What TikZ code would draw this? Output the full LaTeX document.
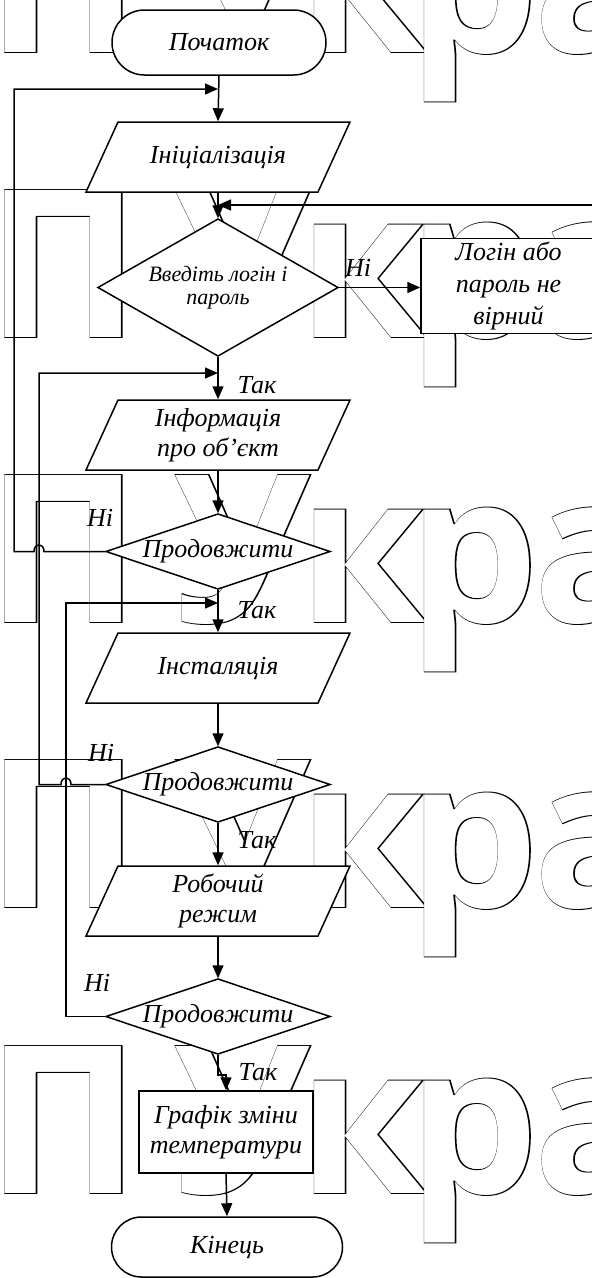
\documentclass[tikz,border=0pt]{standalone}
\usepackage{fontspec}
\setmainfont{Liberation Serif}
\newfontfamily\wmfill{Open Sans}
\newfontfamily\wmstroke{Open Sans}[FakeBold=0.9]
\usetikzlibrary{arrows.meta,shapes.misc}

% input/output block: slanted parallelogram plus a named text node
\newcommand\flowio[4]{%
  \draw[shape line] ({#2-100},{#3-35}) -- ({#2+132},{#3-35}) -- ({#2+100},{#3+35}) -- ({#2-132},{#3+35}) -- cycle;
  \node[inside, minimum width=200pt, minimum height=70pt] (#1) at (#2,#3) {#4};}
% decision block: rhombus plus a named text node of the same size
\newcommand\flowdecision[7][]{%
  \draw[shape line] ({#3-#5},#4) -- (#3,{#4-#6}) -- ({#3+#5},#4) -- (#3,{#4+#6}) -- cycle;
  \node[inside, minimum width={2*#5}, minimum height={2*#6}, #1] (#2) at (#3,#4) {#7};}
% one outlined background letter: dark rim first, white face on top
\newcommand\wmletter[4]{%
  \node[wm, text=black, font=\wmstroke\bfseries\fontsize{206}{206}\selectfont] (#1o) at (#2,#3) {#4};
  \node[wm, text=white, font=\wmfill\bfseries\fontsize{206}{206}\selectfont] (#1i) at (#2,#3) {#4};}

\begin{document}
\begin{tikzpicture}[x=1pt,y=-1pt,line width=1.5pt,
  txt/.style={font=\fontsize{26}{30}\selectfont\itshape},
  inside/.style={txt, inner sep=0pt, align=center},
  shape line/.style={draw, fill=white, line width=1.5pt},
  arr/.style={-{Triangle[length=13pt,width=11pt]}},
  term/.style={rounded rectangle, draw, fill=white, inner sep=0pt, txt},
  plainbox/.style={rectangle, draw, fill=white, inner sep=0pt, align=center, txt},
  tag/.style={txt, inner sep=0pt},
  wm/.style={anchor=base west, inner sep=0pt}
]
\useasboundingbox (0,0) rectangle (592,1278);
\fill[white] (0,0) rectangle (592,1278);

% outlined background lettering, one row every 285pt
\foreach \by [count=\i] in {52,337,622,907,1193}{
  \wmletter{wmP\i}{-14}{\by}{П}
  \wmletter{wmU\i}{175}{\by}{У}
  \wmletter{wmK\i}{298}{\by}{к}
  \wmletter{wmR\i}{408}{\by}{р}
  \wmletter{wmA\i}{533}{\by}{а}
}

% blocks
\node[term, minimum width=214pt, minimum height=65pt] (start) at (219,42.5) {Початок};
\flowio{ini}{218}{157}{Ініціалізація}
\flowdecision[font=\fontsize{22}{23}\selectfont\itshape]{login}{218}{287.5}{120}{68.5}{Введіть логін і\\пароль}
\node[plainbox, minimum width=175pt, minimum height=95pt, font=\fontsize{26}{32}\selectfont\itshape] (err) at (508.5,286) {Логін або\\пароль не\\вірний};
\flowio{info}{218}{435}{Інформація\\про об’єкт}
\flowdecision{cont1}{218}{551.5}{112}{37.5}{Продовжити}
\flowio{inst}{218}{668}{Інсталяція}
\flowdecision{cont2}{218}{784.5}{112}{37.5}{Продовжити}
\flowio{work}{218}{901}{Робочий\\режим}
\flowdecision{cont3}{218}{1016.5}{112}{37.5}{Продовжити}
\node[plainbox, minimum width=174pt, minimum height=82pt] (chart) at (226,1132) {Графік зміни\\температури};
\node[term, minimum width=231pt, minimum height=60pt] (finish) at (227,1247) {Кінець};

% junction points on the main line and line crossings
\coordinate (j0) at (218,89);
\coordinate (j1) at (218,205);
\coordinate (j2) at (218,373);
\coordinate (j3) at (218,603);
\coordinate (hop1) at (39,551.5);
\coordinate (hop2) at (66,784.5);

% connectors
\draw[arr] (start.south) -- (ini.north);
\draw[arr] (ini.south) -- (login.north);
\draw[arr] (login.east) -- (login.east -| err.west);
\draw[arr] (err.east) -- ++(10,0) |- (j1);
\draw[arr] (login.south) -- (info.north);
\draw[arr] (info.south) -- (cont1.north);
\draw[arr] (cont1.west) -- ([xshift=5pt]hop1) .. controls +(0,-9) and +(0,-9) .. ([xshift=-5pt]hop1) -- ++(-20,0) |- (j0);
\draw[arr] (cont1.south) -- (inst.north);
\draw[arr] (inst.south) -- (cont2.north);
\draw[arr] (cont2.west) -- ([xshift=5pt]hop2) .. controls +(0,-9) and +(0,-9) .. ([xshift=-5pt]hop2) -- (hop1 |- cont2.west) |- (j2);
\draw[arr] (cont2.south) -- (work.north);
\draw[arr] (work.south) -- (cont3.north);
\draw[arr] (cont3.west) -- (hop2 |- cont3.west) |- (j3);
\draw[arr] (cont3.south) -- ++(0,20) -| (chart.north);
\draw[arr] (chart.south) -- (finish.north);

% branch labels
\node[tag] (no1) at (358,268) {Ні};
\node[tag] (yes1) at (257,385) {Так};
\node[tag] (no2) at (100,518) {Ні};
\node[tag] (yes2) at (257,610) {Так};
\node[tag] (no3) at (101,753) {Ні};
\node[tag] (yes3) at (257,840) {Так};
\node[tag] (no4) at (97,983) {Ні};
\node[tag] (yes4) at (258,1072) {Так};
\end{tikzpicture}
\end{document}
